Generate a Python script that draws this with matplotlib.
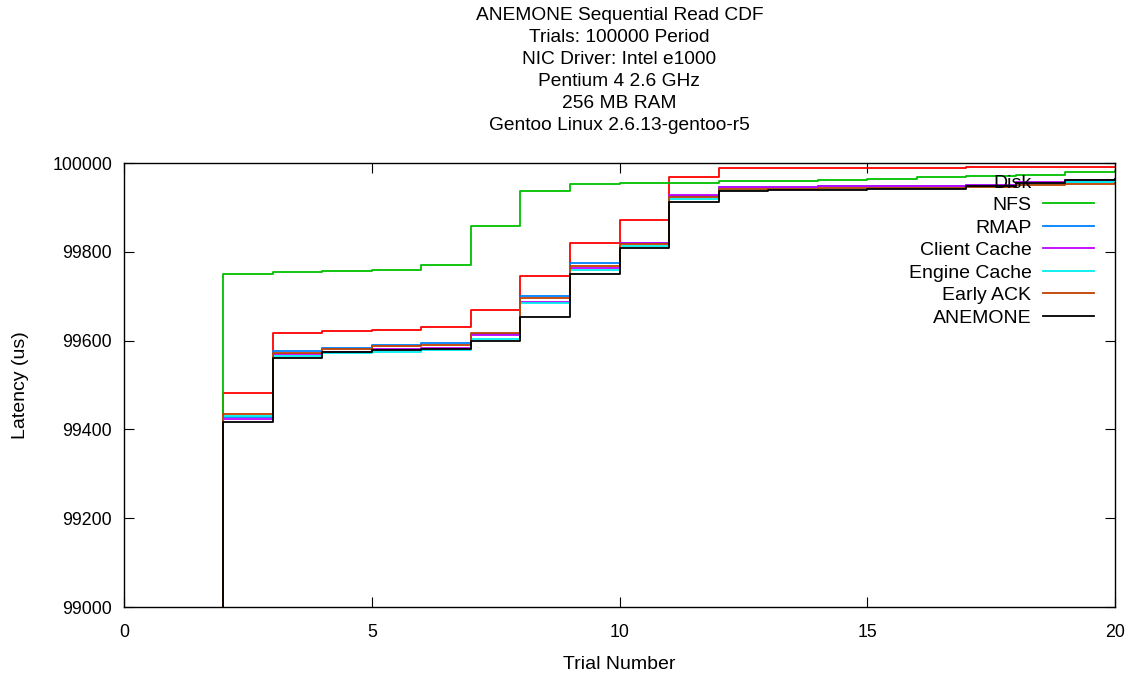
import matplotlib
matplotlib.use("Agg")
import matplotlib.pyplot as plt
from matplotlib.lines import Line2D

plt.rcParams['font.family'] = ['Liberation Sans', 'DejaVu Sans']

trials = list(range(1, 21))
disk = [98700, 99483, 99618, 99621, 99625, 99631, 99669, 99745, 99819, 99871,
        99969, 99989, 99989, 99989, 99989, 99989, 99990, 99990, 99990, 99991]
nfs = [98700, 99749, 99755, 99757, 99759, 99771, 99858, 99936, 99953, 99954,
       99955, 99959, 99960, 99962, 99965, 99968, 99971, 99974, 99980, 99982]
rmap = [98700, 99428, 99577, 99583, 99591, 99594, 99615, 99700, 99775, 99819,
        99925, 99946, 99947, 99948, 99948, 99949, 99950, 99952, 99958, 99960]
client_cache = [98700, 99424, 99569, 99575, 99582, 99584, 99613, 99686, 99763, 99820,
                99929, 99947, 99947, 99948, 99948, 99949, 99950, 99957, 99961, 99963]
engine_cache = [98700, 99430, 99566, 99571, 99575, 99578, 99604, 99684, 99760, 99813,
                99918, 99940, 99941, 99942, 99943, 99944, 99946, 99952, 99957, 99959]
early_ack = [98700, 99435, 99571, 99580, 99587, 99589, 99616, 99696, 99767, 99817,
             99923, 99942, 99942, 99943, 99943, 99944, 99946, 99950, 99953, 99955]
anemone = [98700, 99416, 99561, 99574, 99578, 99580, 99598, 99653, 99750, 99809,
           99912, 99938, 99939, 99940, 99941, 99941, 99948, 99956, 99962, 99964]

series_names = ["Disk", "NFS", "RMAP", "Client Cache", "Engine Cache", "Early ACK", "ANEMONE"]
series_values = [disk, nfs, rmap, client_cache, engine_cache, early_ack, anemone]
series_colors = ["#ff0000", "#00c000", "#0080ff", "#c000ff", "#00eeee", "#c04000", "#000000"]

title_lines = ["ANEMONE Sequential Read CDF", "Trials: 100000 Period",
               "NIC Driver: Intel e1000", "Pentium 4 2.6 GHz", "256 MB RAM",
               "Gentoo Linux 2.6.13-gentoo-r5"]

FS = 14
W, H = 1135, 675
fig = plt.figure(figsize=(W / 100, H / 100), dpi=100)
ax = fig.add_axes([124 / W, 1 - 607 / H, (1115 - 124) / W, (607 - 163) / H])

lines = []
for name, vals, col in zip(series_names, series_values, series_colors):
    ln, = ax.plot(trials, vals, drawstyle='steps-post', color=col, lw=1.3, label=name)
    lines.append(ln)

ax.set_xlim(0, 20)
ax.set_ylim(99000, 100000)
ax.set_xticks([0, 5, 10, 15, 20])
ax.set_yticks(list(range(99000, 100001, 200)))
ax.tick_params(direction='in', length=7, width=0.8, top=True, right=True,
               labelsize=12.8, colors='#000000')
ax.tick_params(axis='x', pad=12)
ax.tick_params(axis='y', pad=8.5)
for s in ax.spines.values():
    s.set_linewidth(1.0)
ax.set_xlabel("Trial Number", fontsize=FS, labelpad=11)
ax.set_ylabel("Latency (us)", fontsize=FS, labelpad=17)

# legend (Disk sample not visible in the original)
handles = [Line2D([], [], color='none', lw=1.3)] + lines[1:]
leg = ax.legend(handles, series_names, loc='upper right', bbox_to_anchor=(0.9788, 0.975),
                frameon=False, markerfirst=False, fontsize=FS, handlelength=2.6,
                handletextpad=0.62, labelspacing=0.25, borderpad=0, borderaxespad=0)

cx = (124 + 1115) / 2 / W
for i, t in enumerate(title_lines):
    fig.text(cx, 1 - (16 + 22 * i) / H, t, ha='center', va='center', fontsize=13.8)

fig.savefig("out.png", dpi=100)
